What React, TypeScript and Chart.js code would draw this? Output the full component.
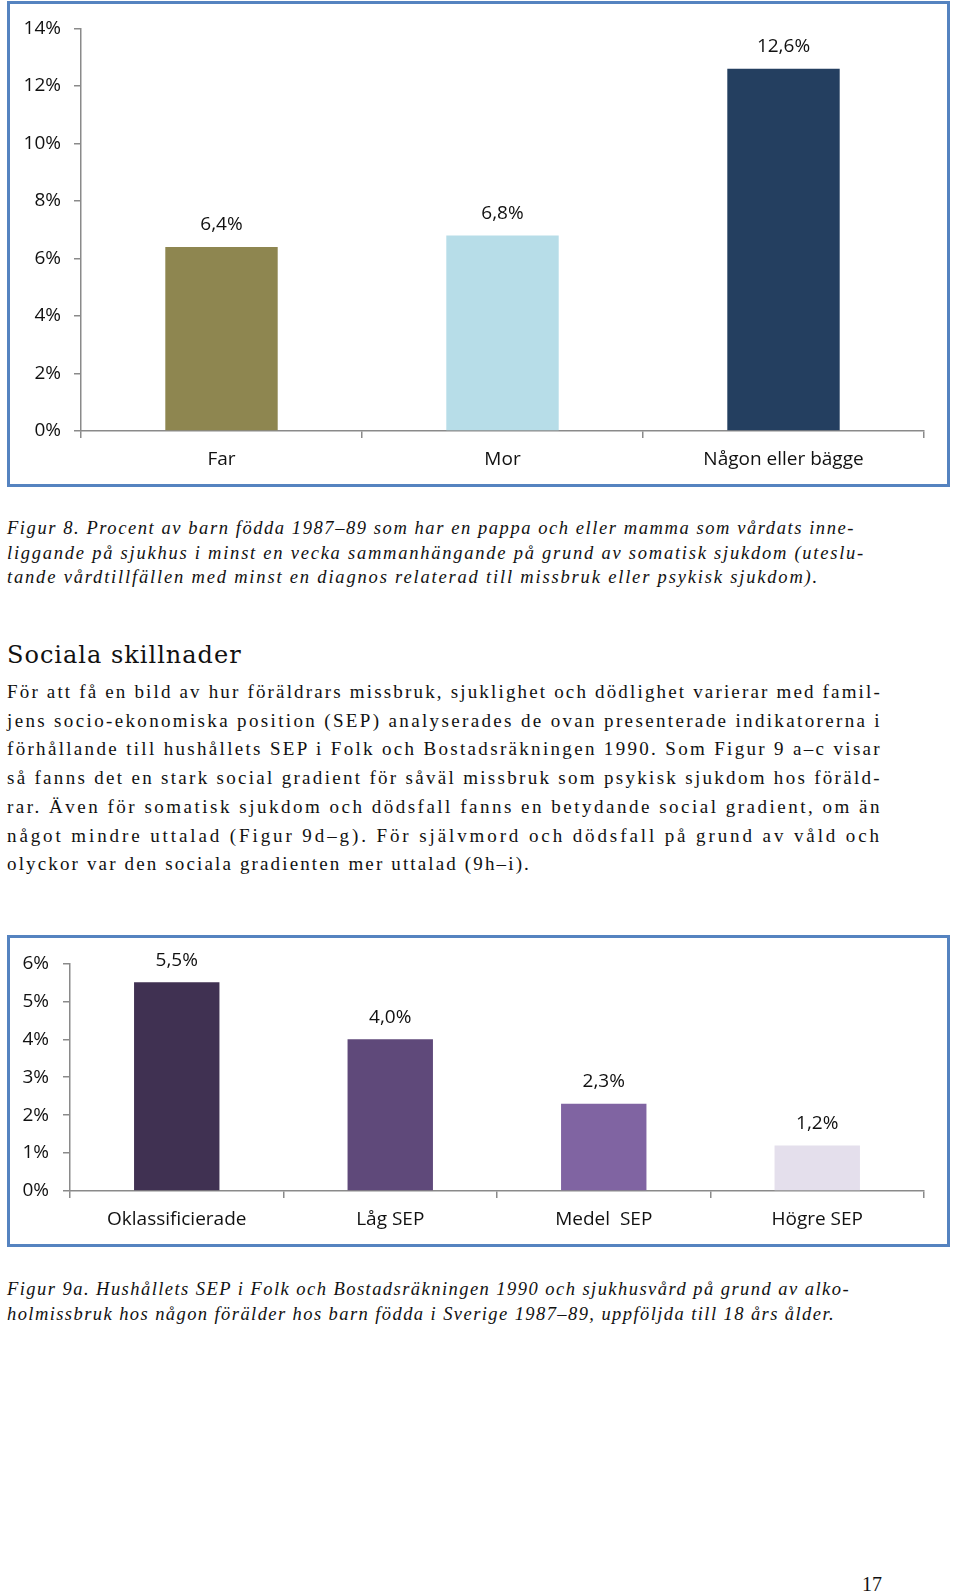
import React, { useEffect, useRef } from "react";
import { Chart, registerables } from "chart.js";

Chart.register(...registerables);

// ---------- Data ----------
const fig8Categories = ["Far", "Mor", "Någon eller bägge"];
const fig8Values = [6.4, 6.8, 12.6];
const fig8Colors = ["#8E8650", "#B7DDE8", "#243F60"];
const fig8YMax = 14;
const fig8YStep = 2;

const fig9Categories = ["Oklassificierade", "Låg SEP", "Medel  SEP", "Högre SEP"];
const fig9Values = [5.5, 4.0, 2.3, 1.2];
const fig9Colors = ["#403152", "#5F497A", "#8064A2", "#E4DFEC"];
const fig9YMax = 6;
const fig9YStep = 1;

const caption8Lines = [
  "Figur 8. Procent av barn födda 1987–89 som har en pappa och eller mamma som vårdats inne-",
  "liggande på sjukhus i minst en vecka sammanhängande på grund av somatisk sjukdom (uteslu-",
  "tande vårdtillfällen med minst en diagnos relaterad till missbruk eller psykisk sjukdom).",
];
const heading = "Sociala skillnader";
const bodyLines = [
  "För att få en bild av hur föräldrars missbruk, sjuklighet och dödlighet varierar med famil-",
  "jens socio-ekonomiska position (SEP) analyserades de ovan presenterade indikatorerna i",
  "förhållande till hushållets SEP i Folk och Bostadsräkningen 1990. Som Figur 9 a–c visar",
  "så fanns det en stark social gradient för såväl missbruk som psykisk sjukdom hos föräld-",
  "rar. Även för somatisk sjukdom och dödsfall fanns en betydande social gradient, om än",
  "något mindre uttalad (Figur 9d–g). För självmord och dödsfall på grund av våld och",
  "olyckor var den sociala gradienten mer uttalad (9h–i).",
];
const caption9Lines = [
  "Figur 9a. Hushållets SEP i Folk och Bostadsräkningen 1990 och sjukhusvård på grund av alko-",
  "holmissbruk hos någon förälder hos barn födda i Sverige 1987–89, uppföljda till 18 års ålder.",
];
const pageNumber = "17";

// ---------- Layout / style (line widths measured from the page) ----------
const caption8Widths = [848, 858, 812];
const bodyWidths = [875, 875, 875, 875, 875, 875, 524];
const caption9Widths = [843, 828];

const AXIS = "#8a8a8a";
const CHART_FONT = "'Open Sans', 'Noto Sans', sans-serif";
const SERIF_NAME = "Liberation Serif";
const SERIF = `'${SERIF_NAME}', 'DejaVu Serif', serif`;
const BORDER = "#5583C0";
const TICK_SIZE = 19;

const fmt = (v: number) => v.toFixed(1).replace(".", ",") + "%";

let measureCtx: CanvasRenderingContext2D | null = null;
function measure(text: string, font: string): number {
  if (!measureCtx) measureCtx = document.createElement("canvas").getContext("2d");
  if (!measureCtx) return 0;
  measureCtx.font = font;
  return measureCtx.measureText(text).width;
}

const valueLabels = {
  id: "valueLabels",
  afterDatasetsDraw(chart: any, _args: any, opts: any) {
    const ctx = chart.ctx;
    const meta = chart.getDatasetMeta(0);
    ctx.save();
    ctx.font = `${opts.size}px ${CHART_FONT}`;
    ctx.fillStyle = "#111";
    ctx.textAlign = "center";
    ctx.textBaseline = "middle";
    meta.data.forEach((bar: any, i: number) => {
      const v = chart.data.datasets[0].data[i] as number;
      ctx.fillText(fmt(v), bar.x, bar.y - opts.offset);
    });
    ctx.restore();
  },
};

type BarProps = {
  labels: string[];
  values: number[];
  colors: string[];
  yMax: number;
  yStep: number;
  width: number;
  height: number;
  yAxisWidth: number;
  xAxisHeight: number;
  padTop: number;
  padRight: number;
  yPad: number;
};

function BarChart(p: BarProps) {
  const ref = useRef<HTMLCanvasElement | null>(null);
  useEffect(() => {
    if (!ref.current) return;
    const font = { family: CHART_FONT, size: TICK_SIZE };
    const chart = new Chart(ref.current, {
      type: "bar",
      data: {
        labels: p.labels,
        datasets: [
          {
            data: p.values,
            backgroundColor: p.colors,
            borderWidth: 0,
            categoryPercentage: 1,
            barPercentage: 0.4,
          },
        ],
      },
      options: {
        responsive: false,
        animation: false,
        layout: { padding: { top: p.padTop, right: p.padRight, left: 0, bottom: 0 } },
        plugins: {
          legend: { display: false },
          tooltip: { enabled: false },
          valueLabels: { offset: 22, size: TICK_SIZE },
        } as any,
        scales: {
          x: {
            grid: {
              display: true,
              drawOnChartArea: false,
              drawTicks: true,
              tickLength: 7,
              color: AXIS,
              lineWidth: 1.5,
              offset: true,
            },
            border: { display: true, color: AXIS, width: 1.5 },
            ticks: {
              font,
              color: "#111",
              padding: 10,
              maxRotation: 0,
              autoSkip: false,
            },
            afterFit: (s: any) => {
              s.height = p.xAxisHeight;
            },
          },
          y: {
            min: 0,
            max: p.yMax,
            grid: {
              display: true,
              drawOnChartArea: false,
              drawTicks: true,
              tickLength: 7,
              color: AXIS,
              lineWidth: 1.5,
            },
            border: { display: true, color: AXIS, width: 1.5 },
            ticks: {
              stepSize: p.yStep,
              font,
              color: "#111",
              padding: p.yPad,
              callback: (v: any) => `${v}%`,
            },
            afterFit: (s: any) => {
              s.width = p.yAxisWidth;
            },
          },
        },
      },
      plugins: [valueLabels as any],
    });
    return () => chart.destroy();
  }, []);
  return <canvas ref={ref} width={p.width} height={p.height} style={{ display: "block" }} />;
}

const boxStyle = (top: number, height: number): React.CSSProperties => ({
  position: "absolute",
  left: 7,
  top,
  width: 943,
  height,
  border: `3px solid ${BORDER}`,
  boxSizing: "border-box",
  background: "#fff",
});

function FitLine({
  text,
  width,
  justify,
  italic,
  size,
}: {
  text: string;
  width: number;
  justify: boolean;
  italic: boolean;
  size: number;
}) {
  const natural = measure(text, `${italic ? "italic " : ""}${size}px "${SERIF_NAME}"`);
  const ls = natural > 0 ? Math.max(0, (width - natural) / text.length) : 1.2;
  return (
    <div
      style={{
        width,
        whiteSpace: "nowrap",
        letterSpacing: `${ls}px`,
        textAlign: justify ? "justify" : "left",
        textAlignLast: justify ? "justify" : "left",
      }}
    >
      {text}
    </div>
  );
}

export default function App() {
  return (
    <div
      style={{
        position: "absolute",
        left: 0,
        top: 0,
        width: 960,
        height: 1592,
        overflow: "hidden",
        background: "#fff",
        color: "#111",
      }}
    >
      <div style={boxStyle(1, 486)}>
        <BarChart
          labels={fig8Categories}
          values={fig8Values}
          colors={fig8Colors}
          yMax={fig8YMax}
          yStep={fig8YStep}
          width={937}
          height={480}
          yAxisWidth={71}
          xAxisHeight={53}
          padTop={22}
          padRight={23}
          yPad={13}
        />
      </div>

      <div
        style={{
          position: "absolute",
          left: 7,
          top: 516,
          fontFamily: SERIF,
          fontStyle: "italic",
          fontSize: 18.5,
          lineHeight: "24.5px",
        }}
      >
        {caption8Lines.map((t, i) => (
          <FitLine key={i} text={t} width={caption8Widths[i]} justify={i < caption8Lines.length - 1} italic size={18.5} />
        ))}
      </div>

      <div
        style={{
          position: "absolute",
          left: 7,
          top: 642,
          fontFamily: "'DejaVu Serif', serif",
          fontSize: 24,
          lineHeight: "26px",
          letterSpacing: "1px",
        }}
      >
        {heading}
      </div>

      <div
        style={{
          position: "absolute",
          left: 7,
          top: 678,
          fontFamily: SERIF,
          fontSize: 19,
          lineHeight: "28.7px",
        }}
      >
        {bodyLines.map((t, i) => (
          <FitLine key={i} text={t} width={bodyWidths[i]} justify={i < bodyLines.length - 1} italic={false} size={19} />
        ))}
      </div>

      <div style={boxStyle(935, 312)}>
        <BarChart
          labels={fig9Categories}
          values={fig9Values}
          colors={fig9Colors}
          yMax={fig9YMax}
          yStep={fig9YStep}
          width={937}
          height={306}
          yAxisWidth={60}
          xAxisHeight={53}
          padTop={21}
          padRight={23}
          yPad={14}
        />
      </div>

      <div
        style={{
          position: "absolute",
          left: 7,
          top: 1277,
          fontFamily: SERIF,
          fontStyle: "italic",
          fontSize: 18.5,
          lineHeight: "24.5px",
        }}
      >
        {caption9Lines.map((t, i) => (
          <FitLine key={i} text={t} width={caption9Widths[i]} justify={i < caption9Lines.length - 1} italic size={18.5} />
        ))}
      </div>

      <div
        style={{
          position: "absolute",
          left: 862,
          top: 1574,
          fontFamily: SERIF,
          fontSize: 20,
          lineHeight: "20px",
        }}
      >
        {pageNumber}
      </div>
    </div>
  );
}
